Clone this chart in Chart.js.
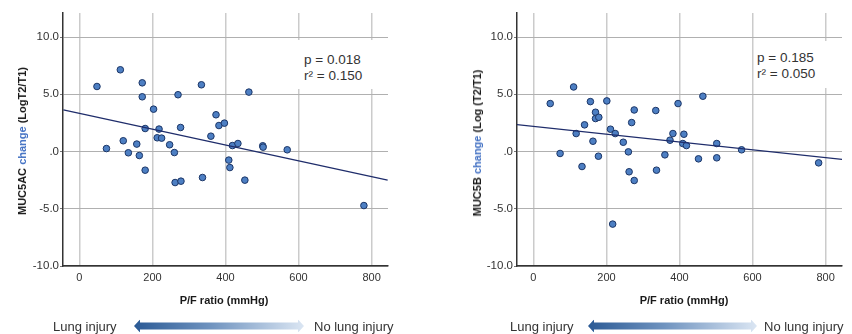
<!DOCTYPE html>
<html>
<head>
<meta charset="utf-8">
<script src="https://cdn.jsdelivr.net/npm/chart.js@4/dist/chart.umd.min.js"></script>
<style>
  html, body { margin: 0; padding: 0; background: #fff; }
  #wrap { position: relative; width: 852px; height: 334px; overflow: hidden; font-family: "Liberation Sans", Arial, sans-serif; color: #333; }
  canvas { position: absolute; top: 0; }
  .ytitle { position: absolute; white-space: nowrap; font-weight: bold; font-size: 11px; color: #1a1a1a; transform: translate(-50%, -50%) rotate(-90deg); }
  .ytitle .blue { color: #4472c4; }
  .xtitle { position: absolute; white-space: nowrap; font-weight: bold; font-size: 11px; color: #1a1a1a; transform: translate(-50%, -50%); }
  .stat { position: absolute; background: #fff; font-size: 13.5px; line-height: 15.5px; color: #333; box-sizing: border-box; }
  .lbl { position: absolute; white-space: nowrap; font-size: 13px; color: #333; transform: translateY(-50%); }
  .arrow { position: absolute; height: 13px; transform: translateY(-50%);
    background: linear-gradient(to right, #2b5a95 0%, #6f93bf 45%, #dbe6f3 100%);
    clip-path: polygon(0 50%, 6px 0, 6px 3px, calc(100% - 6px) 3px, calc(100% - 6px) 0, 100% 50%, calc(100% - 6px) 100%, calc(100% - 6px) 10px, 6px 10px, 6px 100%); }
</style>
</head>
<body>
<div id="wrap">
  <canvas id="c1" width="426" height="334" style="left:0;width:426px;height:334px"></canvas>
  <canvas id="c2" width="422" height="334" style="left:430px;width:422px;height:334px"></canvas>

  <div class="ytitle" style="left:22px;top:141px">MUC5AC <span class="blue">change</span> (LogT2/T1)</div>
  <div class="ytitle" style="left:477px;top:143px">MUC5B <span class="blue">change</span> (Log (T2/T1)</div>

  <div class="stat" style="left:296px;top:40px;width:93px;height:49px;padding:12px 0 0 8px">p = 0.018<br>r² = 0.150</div>
  <div class="stat" style="left:754px;top:41px;width:88px;height:47px;padding:9px 0 0 3px">p = 0.185<br>r² = 0.050</div>

  <div class="xtitle" style="left:224px;top:300px">P/F ratio (mmHg)</div>
  <div class="xtitle" style="left:684px;top:300px">P/F ratio (mmHg)</div>

  <div class="lbl" style="left:53px;top:326px">Lung injury</div>
  <div class="arrow" style="left:134px;top:326px;width:170px"></div>
  <div class="lbl" style="left:314px;top:326px">No lung injury</div>

  <div class="lbl" style="left:510px;top:326px">Lung injury</div>
  <div class="arrow" style="left:588px;top:326px;width:169px"></div>
  <div class="lbl" style="left:764px;top:326px">No lung injury</div>
</div>
<script>
// ---- Data ----
const pfLeft = [48, 74, 112, 120, 134, 157, 164, 172, 172, 180, 180, 203, 213, 218, 225, 247, 260, 262, 270, 277, 278, 334, 337, 360, 374, 382, 397, 409, 412, 419, 434, 453, 464, 502, 503, 569, 779];
const muc5acChange = [5.68, 0.26, 7.14, 0.94, -0.11, 0.65, -0.35, 6.0, 4.78, 2.01, -1.63, 3.7, 1.2, 1.96, 1.17, 0.59, -0.09, -2.71, 4.96, 2.1, -2.59, 5.83, -2.27, 1.34, 3.21, 2.27, 2.48, -0.75, -1.4, 0.52, 0.7, -2.5, 5.19, 0.5, 0.38, 0.15, -4.72];
const fitLeftX = [-44, 844];
const fitLeftY = [3.64, -2.5];

const pfRight = [46, 73, 110, 117, 133, 140, 156, 163, 170, 170, 179, 178, 201, 211, 224, 246, 260, 262, 269, 276, 276, 335, 337, 360, 374, 382, 396, 409, 412, 419, 452, 464, 502, 502, 570, 781, 217];
const muc5bChange = [4.19, -0.17, 5.64, 1.57, -1.31, 2.33, 4.36, 0.9, 3.43, 2.88, 2.99, -0.41, 4.42, 1.95, 1.57, 0.81, -0.03, -1.77, 2.53, 3.63, -2.53, 3.58, -1.63, -0.29, 0.99, 1.57, 4.19, 0.70, 1.51, 0.52, -0.64, 4.83, 0.70, -0.55, 0.15, -0.99, -6.34];
const fitRightX = [-46, 847];
const fitRightY = [2.35, -0.70];

const xTicks = [0, 200, 400, 600, 800];
const yTicks = [-10, -5, 0, 5, 10];
const xRange = [-45, 845];
const yRange = [-10, 12.1];

function pts(xs, ys) { return xs.map((x, i) => ({ x: x, y: ys[i] })); }

function makeChart(id, xs, ys, fx, fy, yWidth, padRight, padTop) {
  return new Chart(document.getElementById(id), {
    type: 'scatter',
    data: {
      datasets: [
        {
          type: 'line',
          data: pts(fx, fy),
          borderColor: '#1f2d6b',
          borderWidth: 1.3,
          pointRadius: 0,
          fill: false,
          tension: 0
        },
        {
          data: pts(xs, ys),
          backgroundColor: '#4d7fc3',
          borderColor: '#1b3566',
          borderWidth: 1,
          pointRadius: 3.3,
          pointHoverRadius: 3.3
        }
      ]
    },
    options: {
      responsive: false,
      animation: false,
      devicePixelRatio: 1,
      layout: { padding: { left: 0, right: padRight, top: padTop, bottom: 0 } },
      plugins: { legend: { display: false }, tooltip: { enabled: false } },
      scales: {
        x: {
          type: 'linear',
          min: xRange[0], max: xRange[1],
          afterFit: (s) => { s.height = 68; },
          afterBuildTicks: (s) => { s.ticks = xTicks.map(v => ({ value: v })); },
          ticks: { font: { family: 'Liberation Sans', size: 11 }, color: '#333', padding: 5, includeBounds: false },
          grid: { color: '#cbcbcb', lineWidth: 1.5, drawTicks: false },
          border: { display: true, color: '#333', width: 1.5 }
        },
        y: {
          type: 'linear',
          min: yRange[0], max: yRange[1],
          afterFit: (s) => { s.width = yWidth; },
          afterBuildTicks: (s) => { s.ticks = yTicks.map(v => ({ value: v })); },
          ticks: {
            font: { family: 'Liberation Sans', size: 11.5 }, color: '#333', padding: 1, includeBounds: false,
            callback: (v) => v === 0 ? '.0' : Number(v).toFixed(1)
          },
          grid: { color: '#b0b0b0', lineWidth: 1, drawTicks: true, tickLength: 3, tickColor: '#777' },
          border: { display: true, color: '#333', width: 1.5 }
        }
      }
    }
  });
}

makeChart('c1', pfLeft, muc5acChange, fitLeftX, fitLeftY, 63, 38, 13);
makeChart('c2', pfRight, muc5bChange, fitRightX, fitRightY, 87, 10, 13);
</script>
</body>
</html>
